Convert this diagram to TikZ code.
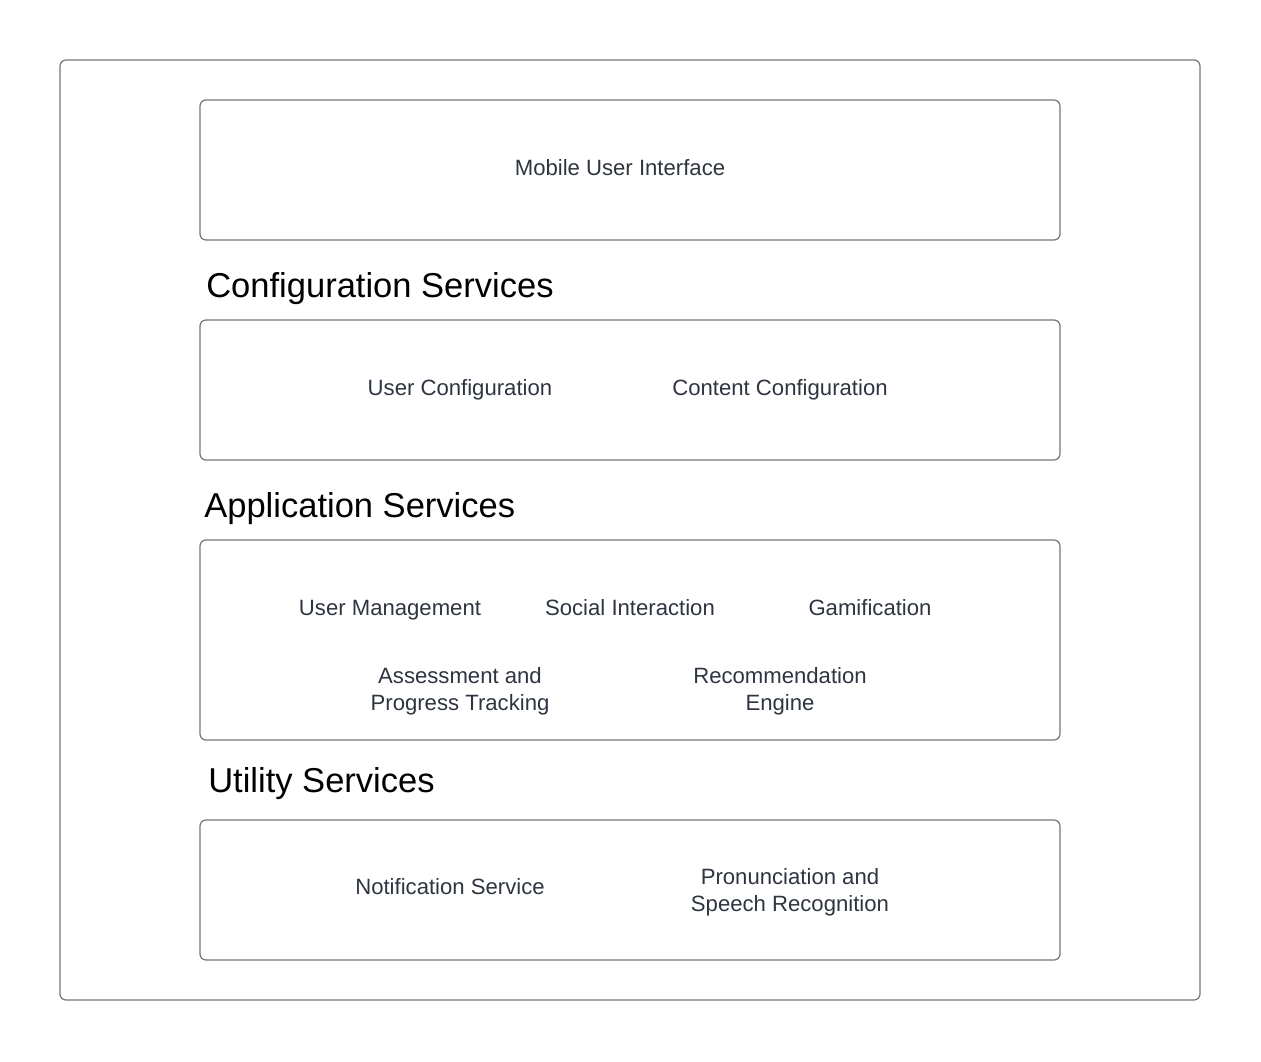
\documentclass[tikz,border=0pt]{standalone}
\usepackage{fontspec}
\setmainfont{Liberation Sans}
\definecolor{edge}{HTML}{70747B}
\definecolor{txt}{HTML}{2E3440}
\begin{document}
\begin{tikzpicture}[x=0.75pt,y=-0.75pt,
  panel/.style={draw=edge,line width=0.9pt,rounded corners=4.5pt},
  item/.style={text=txt,font=\fontsize{16.6pt}{20.2pt}\selectfont,align=center,inner sep=0pt,text height=11.9pt,text depth=0pt},
  item2/.style={text=txt,font=\fontsize{16.6pt}{20.2pt}\selectfont,align=center,inner sep=0pt},
  heading/.style={text=black,font=\fontsize{25.9pt}{30pt}\selectfont,anchor=west,inner sep=0pt,text height=18.5pt,text depth=0pt}]
\path[use as bounding box] (0,0) rectangle (1261,1061);
\draw[panel] (60,60) rectangle (1200,1000);
\draw[panel] (200,100) rectangle (1060,240);
\draw[panel] (200,320) rectangle (1060,460);
\draw[panel] (200,540) rectangle (1060,740);
\draw[panel] (200,820) rectangle (1060,960);
\node[item] (mui) at (620,167.5) {Mobile User Interface};
\node[heading] (hconf) at (206,285) {Configuration Services};
\node[item] (ucfg) at (460,387.5) {User Configuration};
\node[item] (ccfg) at (780,387.5) {Content Configuration};
\node[heading] (happ) at (204,505) {Application Services};
\node[item] (um) at (390,607.5) {User Management};
\node[item] (si) at (630,607.5) {Social Interaction};
\node[item] (gam) at (870,607.5) {Gamification};
\node[item2] (apt) at (460,691) {Assessment and\\Progress Tracking};
\node[item2] (rec) at (780,691) {Recommendation\\Engine};
\node[heading] (hutil) at (208,780) {Utility Services};
\node[item] (ns) at (450,886.5) {Notification Service};
\node[item2] (psr) at (790,892) {Pronunciation and\\Speech Recognition};
\end{tikzpicture}
\end{document}
